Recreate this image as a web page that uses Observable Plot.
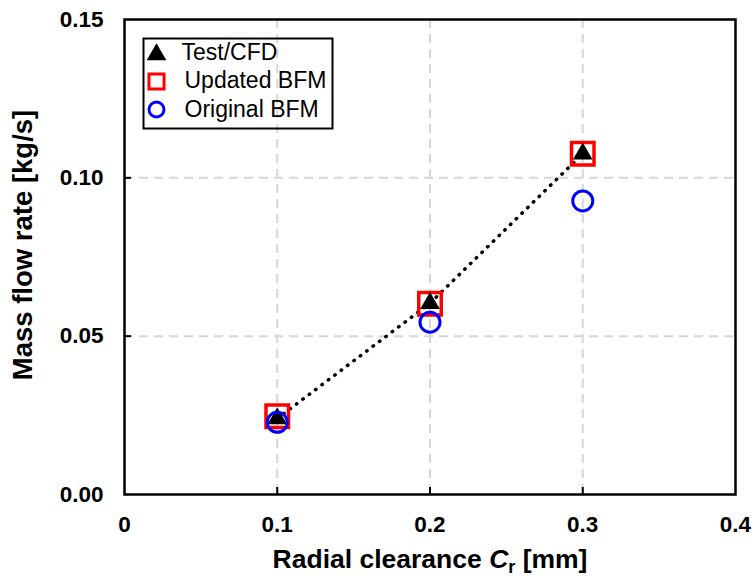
<!DOCTYPE html>
<html><head><meta charset="utf-8">
<script src="https://cdn.jsdelivr.net/npm/d3@7"></script>
<script src="https://cdn.jsdelivr.net/npm/@observablehq/plot@0.6"></script>
<style>body{margin:0;background:#fff;}</style>
</head><body><div id="chart"></div>
<script>
const clearance = [0.1, 0.2, 0.3];
const testCFD = [0.0240, 0.0604, 0.1076];
const updatedBFM = [0.0247, 0.0602, 0.1076];
const originalBFM = [0.0228, 0.0544, 0.0927];
const xTicks = [0, 0.1, 0.2, 0.3, 0.4];
const yTicks = [0, 0.05, 0.10, 0.15];
const xGrid = [0.1, 0.2, 0.3];
const yGrid = [0.05, 0.10];
const legendLabels = ["Test/CFD", "Updated BFM", "Original BFM"];
const xTitleParts = ["Radial clearance ", "C", "r", " [mm]"];
const yTitle = "Mass flow rate [kg/s]";

const rows = ys => clearance.map((x, i) => ({x, y: ys[i]}));

const W = 754, H = 577, mL = 124, mR = 19, mT = 19, mB = 83;
const pW = W - mL - mR, pH = H - mT - mB;
const font = "'Liberation Sans', Arial, sans-serif";
const xTitleText = xTitleParts.join("");

const legendSymbols = [
  {symbol: "triangle", r: 7.3, fill: "#000", stroke: "none", strokeWidth: 0, dy: 35},
  {symbol: "square", r: 8.5, fill: "none", stroke: "#ff0000", strokeWidth: 3, dy: 62},
  {symbol: "circle", r: 7.5, fill: "none", stroke: "#0000ff", strokeWidth: 3, dy: 90}
];
const legendTextPos = [{dx: 57, dy: 33}, {dx: 60, dy: 61}, {dx: 60, dy: 90}];

const chart = Plot.plot({
  width: W, height: H,
  marginLeft: mL, marginRight: mR, marginTop: mT, marginBottom: mB,
  style: {fontFamily: font, fontSize: "22.5px", fontWeight: "bold", background: "#fff", color: "#000", overflow: "visible"},
  x: {domain: [0, 0.4]},
  y: {domain: [0, 0.15]},
  marks: [
    Plot.gridX(xGrid, {stroke: "#d6d6d6", strokeOpacity: 1, strokeWidth: 2, strokeDasharray: "9,6"}),
    Plot.gridY(yGrid, {stroke: "#d6d6d6", strokeOpacity: 1, strokeWidth: 2, strokeDasharray: "9,6"}),
    Plot.tickX(xGrid, {x: d => d, insetTop: pH - 7, stroke: "#000", strokeWidth: 2}),
    Plot.tickY(yGrid, {y: d => d, insetRight: pW - 7, stroke: "#000", strokeWidth: 2}),
    Plot.axisX(xTicks, {tickSize: 0, tickPadding: 22, tickFormat: d => d === 0 ? "0" : d.toFixed(1), label: null}),
    Plot.axisY(yTicks, {tickSize: 0, tickPadding: 21, tickFormat: d => d.toFixed(2), label: null}),
    Plot.frame({stroke: "#000", strokeWidth: 2.5}),
    Plot.line(rows(testCFD), {x: "x", y: "y", stroke: "#000", strokeWidth: 3.5, strokeDasharray: "0.5,7.5", strokeLinecap: "round"}),
    Plot.dot(rows(updatedBFM), {x: "x", y: "y", symbol: "square", r: 12.7, stroke: "#ff0000", strokeWidth: 3.5, fill: "none"}),
    Plot.dot(rows(testCFD), {x: "x", y: "y", symbol: "triangle", r: 7.3, fill: "#000", stroke: "none"}),
    Plot.dot(rows(originalBFM), {x: "x", y: "y", symbol: "circle", r: 10, stroke: "#0000ff", strokeWidth: 3, fill: "none"}),
    // legend
    Plot.frame({insetLeft: 19, insetTop: 19, insetRight: pW - 208, insetBottom: pH - 109, stroke: "#000", strokeWidth: 2, fill: "none"}),
    ...legendSymbols.map(s => Plot.dot([0], {frameAnchor: "top-left", dx: 32, dy: s.dy, symbol: s.symbol, r: s.r, fill: s.fill, stroke: s.stroke, strokeWidth: s.strokeWidth})),
    ...legendLabels.map((l, i) => Plot.text([l], {text: d => d, frameAnchor: "top-left", dx: legendTextPos[i].dx, dy: legendTextPos[i].dy, textAnchor: "start", lineAnchor: "middle", fontSize: 23, fontWeight: "normal"})),
    // titles
    Plot.text([yTitle], {text: d => d, frameAnchor: "left", dx: -101, dy: -12, rotate: -90, textAnchor: "middle", lineAnchor: "middle", fontSize: 27.5, fontWeight: "bold"}),
    Plot.text([xTitleText], {text: d => d, frameAnchor: "bottom", dy: 65, textAnchor: "middle", lineAnchor: "middle", fontSize: 26.5, fontWeight: "bold"})
  ]
});

d3.select(chart).selectAll("text").filter(function() { return this.textContent === xTitleText; }).each(function() {
  const t = d3.select(this);
  t.text(null);
  t.append("tspan").text(xTitleParts[0]);
  t.append("tspan").attr("font-style", "italic").text(xTitleParts[1]);
  t.append("tspan").attr("dy", 5).attr("font-size", "18px").text(xTitleParts[2]);
  t.append("tspan").attr("dy", -5).text(xTitleParts[3]);
});

document.getElementById("chart").appendChild(chart);
</script>
</body></html>
